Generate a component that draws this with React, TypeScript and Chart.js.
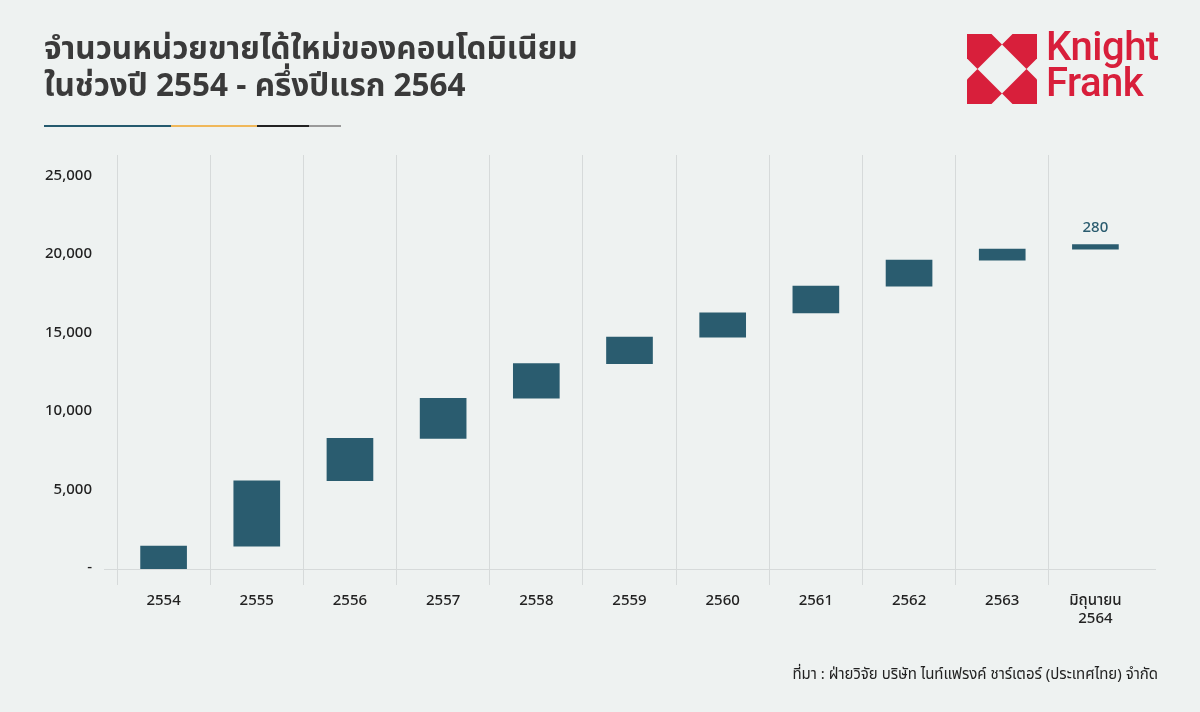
import React, { useEffect, useRef } from "react";
import { Chart, registerables } from "chart.js";

Chart.register(...registerables);

// ---- data ----
const categories: string[][] = [
  ["2554"], ["2555"], ["2556"], ["2557"], ["2558"], ["2559"],
  ["2560"], ["2561"], ["2562"], ["2563"], ["มิถุนายน", "2564"],
];
// new condominium units sold in each period (waterfall increments)
const newUnits: number[] = [1460, 4170, 2700, 2560, 2210, 1690, 1540, 1710, 1660, 700, 280];
// which bars carry a value label
const showValueLabel: boolean[] = [false, false, false, false, false, false, false, false, false, false, true];
const yTickValues: number[] = [0, 5000, 10000, 15000, 20000, 25000];

const titleLines: string[] = [
  "จำนวนหน่วยขายได้ใหม่ของคอนโดมิเนียม",
  "ในช่วงปี 2554 - ครึ่งปีแรก 2564",
];
const sourceText = "ที่มา : ฝ่ายวิจัย บริษัท ไนท์แฟรงค์ ชาร์เตอร์ (ประเทศไทย) จำกัด";

const BG = "#eef2f1";
const BAR = "#2a5c6f";
const GRID = "#d6dada";
const TEXT = "#222222";
const FONT = '"Noto Sans Thai", "Noto Sans", "Open Sans", sans-serif';

export default function App() {
  const canvasRef = useRef<HTMLCanvasElement | null>(null);

  useEffect(() => {
    const canvas = canvasRef.current;
    if (!canvas) return;

    // floating ranges for the waterfall built from the increments
    const ranges: [number, number][] = [];
    let run = 0;
    for (const v of newUnits) {
      ranges.push([run, run + v]);
      run += v;
    }

    const baselinePlugin = {
      id: "baseline",
      beforeDatasetsDraw(chart: any) {
        const { ctx, chartArea, scales } = chart;
        const y = Math.round(scales.y.getPixelForValue(0)) + 0.5;
        ctx.save();
        ctx.strokeStyle = GRID;
        ctx.lineWidth = 1;
        ctx.beginPath();
        ctx.moveTo(chartArea.left - 13, y);
        ctx.lineTo(chartArea.right + 14, y);
        ctx.stroke();
        ctx.restore();
      },
    };

    const valueLabelPlugin = {
      id: "valueLabel",
      afterDatasetsDraw(chart: any) {
        const { ctx } = chart;
        const meta = chart.getDatasetMeta(0);
        ctx.save();
        ctx.fillStyle = BAR;
        ctx.font = `500 15px ${FONT}`;
        ctx.textAlign = "center";
        ctx.textBaseline = "alphabetic";
        meta.data.forEach((el: any, i: number) => {
          if (!showValueLabel[i]) return;
          ctx.fillText(String(newUnits[i]), el.x, el.y - 13);
        });
        ctx.restore();
      },
    };

    const chart = new Chart(canvas, {
      type: "bar",
      data: {
        labels: categories,
        datasets: [
          {
            data: ranges as any,
            backgroundColor: BAR,
            borderWidth: 0,
            barThickness: 46,
          },
        ],
      },
      options: {
        animation: false,
        responsive: false,
        maintainAspectRatio: false,
        layout: { padding: { top: 155, right: 58, bottom: 73, left: 0 } },
        plugins: {
          legend: { display: false },
          tooltip: { enabled: false },
        },
        scales: {
          x: {
            offset: true,
            grid: {
              display: true,
              offset: true,
              drawOnChartArea: true,
              drawTicks: true,
              tickLength: 16,
              lineWidth: 1,
              color: (ctx: any) => (ctx.type === "tick" ? GRID : "rgba(0,0,0,0)"),
            },
            border: { display: false },
            ticks: {
              color: TEXT,
              font: { family: FONT, size: 15, weight: 500 as any },
              padding: 8,
              maxRotation: 0,
              autoSkip: false,
            },
            afterFit: (s: any) => {
              s.height = 70;
            },
          },
          y: {
            min: 0,
            max: 26400,
            afterBuildTicks: (s: any) => {
              s.ticks = yTickValues.map((v) => ({ value: v }));
            },
            grid: { display: false, drawTicks: false },
            border: { display: false },
            ticks: {
              color: TEXT,
              font: { family: FONT, size: 15, weight: 500 as any },
              padding: 25,
              callback: (v: any) => (Number(v) === 0 ? "-" : Number(v).toLocaleString("en-US")),
            },
            afterFit: (s: any) => {
              s.width = 117;
            },
          },
        },
      },
      plugins: [baselinePlugin, valueLabelPlugin],
    });

    return () => chart.destroy();
  }, []);

  const red = "#d81f3b";

  return (
    <div
      style={{
        position: "absolute",
        left: 0,
        top: 0,
        width: 1200,
        height: 712,
        background: BG,
        overflow: "hidden",
        fontFamily: FONT,
      }}
    >
      <canvas
        ref={canvasRef}
        width={1200}
        height={712}
        style={{ position: "absolute", left: 0, top: 0, width: 1200, height: 712 }}
      />

      {/* title */}
      <div
        style={{
          position: "absolute",
          left: 44,
          top: 31,
          fontSize: 31.5,
          fontWeight: 700,
          lineHeight: "37px",
          color: "#3a3a3a",
          whiteSpace: "nowrap",
        }}
      >
        {titleLines.map((t, i) => (
          <div key={i}>{t}</div>
        ))}
      </div>

      {/* coloured underline */}
      <div style={{ position: "absolute", left: 44, top: 125, height: 2, width: 297, display: "flex" }}>
        <div style={{ width: 127, background: "#245a6e" }} />
        <div style={{ width: 86, background: "#f0b85a" }} />
        <div style={{ width: 52, background: "#222222" }} />
        <div style={{ width: 32, background: "#9a9a9a" }} />
      </div>

      {/* logo mark */}
      <svg
        style={{ position: "absolute", left: 967, top: 34 }}
        width={70}
        height={70}
        viewBox="0 0 70 70"
      >
        <g fill={red}>
          <polygon points="0,0 24.5,0 35,10.5 10.5,35 0,24.5" />
          <polygon points="70,0 45.5,0 35,10.5 59.5,35 70,24.5" />
          <polygon points="0,70 24.5,70 35,59.5 10.5,35 0,45.5" />
          <polygon points="70,70 45.5,70 35,59.5 59.5,35 70,45.5" />
        </g>
      </svg>
      <div
        style={{
          position: "absolute",
          left: 1046,
          top: 29,
          color: red,
          fontFamily: 'Roboto, "Open Sans", sans-serif',
          fontWeight: 500,
          fontSize: 40,
          lineHeight: "36px",
          letterSpacing: -0.5,
        }}
      >
        <div>Knight</div>
        <div>Frank</div>
      </div>

      {/* source */}
      <div
        style={{
          position: "absolute",
          right: 42,
          top: 663,
          fontSize: 15,
          color: TEXT,
          whiteSpace: "nowrap",
        }}
      >
        {sourceText}
      </div>
    </div>
  );
}
